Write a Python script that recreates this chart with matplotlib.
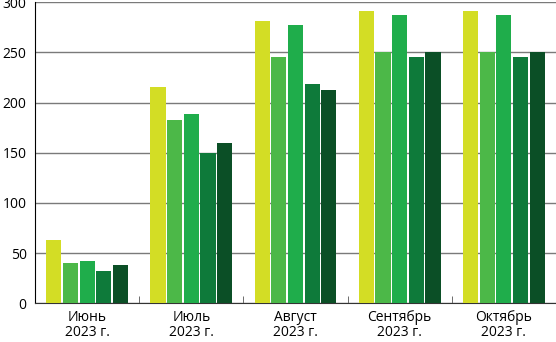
import numpy as np
import matplotlib
matplotlib.use('Agg')
import matplotlib.pyplot as plt

plt.rcParams['font.family'] = ['Open Sans', 'DejaVu Sans']

months = ['Июнь\n2023 г.', 'Июль\n2023 г.', 'Август\n2023 г.', 'Сентябрь\n2023 г.', 'Октябрь\n2023 г.']
series = [
    [63, 216, 281, 291, 291],
    [40, 183, 245, 250, 250],
    [42, 189, 277, 287, 287],
    [32, 150, 219, 245, 245],
    [38, 160, 213, 250, 250],
]
colors = ['#d3dd25', '#4cb848', '#1fad4b', '#0e7a3a', '#0b4f26']

fig = plt.figure(figsize=(5.56, 3.42), dpi=100)
ax = fig.add_axes([35/556, 38.7/342, 521/556, 301/342])

x = np.arange(len(months))
step = 0.16
for k, vals in enumerate(series):
    ax.bar(x + (k - 2)*step, vals, width=0.145, color=colors[k], zorder=3)

ax.set_xlim(-0.5, 4.5)
ax.set_ylim(0, 300)
ax.set_yticks(np.arange(0, 301, 50))
ax.yaxis.grid(True, color='#7a7a7a', linewidth=1, zorder=0)
ax.set_axisbelow(True)

ax.set_xticks(x)
ax.set_xticklabels(months, fontsize=10, linespacing=1.0)
ax.set_xticks(np.arange(0.5, 4.5, 1), minor=True)
ax.tick_params(axis='x', which='major', length=0, pad=5)
ax.tick_params(axis='x', which='minor', direction='in', length=5, color='#555555')
ax.tick_params(axis='y', length=0, pad=6, labelsize=10)

for s in ['top', 'right']:
    ax.spines[s].set_visible(False)
ax.spines['left'].set_color('black')
ax.spines['bottom'].set_color('#333333')

fig.savefig('out.png', dpi=100)
